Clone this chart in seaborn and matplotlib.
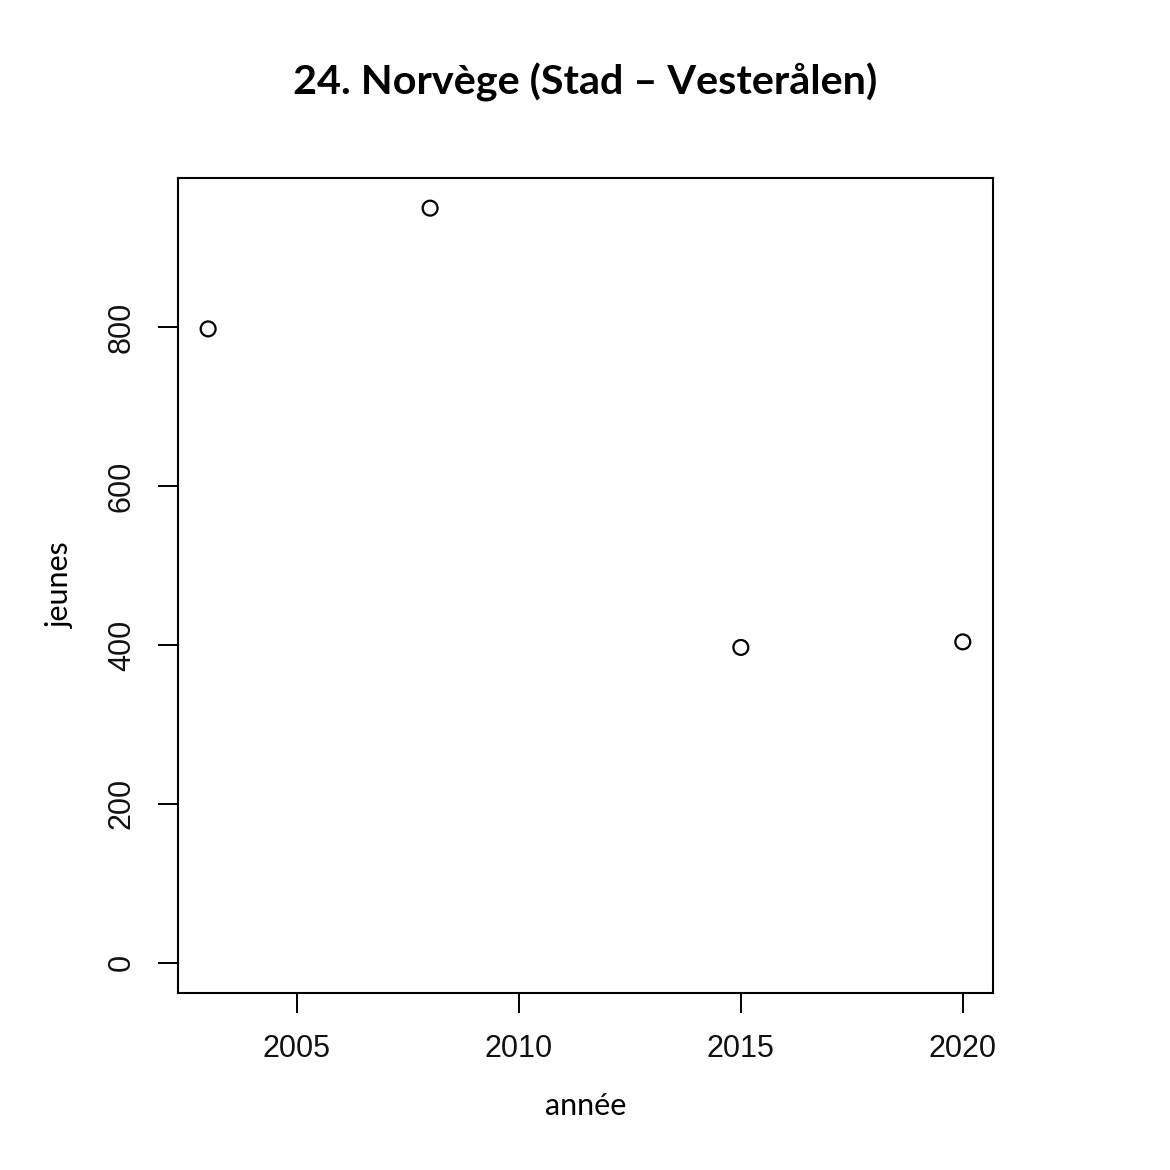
import matplotlib

matplotlib.use("Agg")
import matplotlib.pyplot as plt
import seaborn as sns

# values
annee = [2003, 2008, 2015, 2020]
jeunes = [798, 950, 397, 404]
x_ticks = [2005, 2010, 2015, 2020]
y_ticks = [0, 200, 400, 600, 800]

TITLE = "24. Norvège (Stad – Vesterålen)"

sns.set_style("white")
plt.rcParams["font.family"] = ["Liberation Sans", "DejaVu Sans"]
plt.rcParams["text.color"] = "black"
plt.rcParams["axes.labelcolor"] = "black"

fig = plt.figure(figsize=(11.7, 11.7), dpi=100)
ax = fig.add_axes([0.1521, 0.1513, 0.6966, 0.6966])

sns.scatterplot(
    x=annee,
    y=jeunes,
    ax=ax,
    marker="o",
    s=115,
    facecolor="none",
    edgecolor="black",
    linewidth=1.6,
)

ax.set_xlim(2002.32, 2020.68)
ax.set_ylim(-38, 988)
ax.set_xticks(x_ticks)
ax.set_yticks(y_ticks)
ax.set_xticklabels([str(v) for v in x_ticks])
ax.set_yticklabels([str(v) for v in y_ticks], rotation=90, va="center")
ax.tick_params(axis="both", bottom=True, left=True, length=14.5, width=1.4,
               color="black", labelsize=22, pad=15, direction="out",
               labelcolor="#111111")
for side in ["top", "right", "bottom", "left"]:
    ax.spines[side].set_visible(True)
    ax.spines[side].set_color("black")
    ax.spines[side].set_linewidth(1.5)

ax.set_xlabel("année", family=["Lato", "DejaVu Sans"], fontsize=22, labelpad=20)
ax.set_ylabel("jeunes", family=["Lato", "DejaVu Sans"], fontsize=22, labelpad=24)

fig.text(0.5, 1 - 82 / 1170, TITLE, ha="center", va="center",
         family=["Lato", "DejaVu Sans"], fontweight="bold", fontsize=29.8,
         color="black")

fig.savefig("out.png", dpi=100, facecolor="white")
plt.close(fig)
